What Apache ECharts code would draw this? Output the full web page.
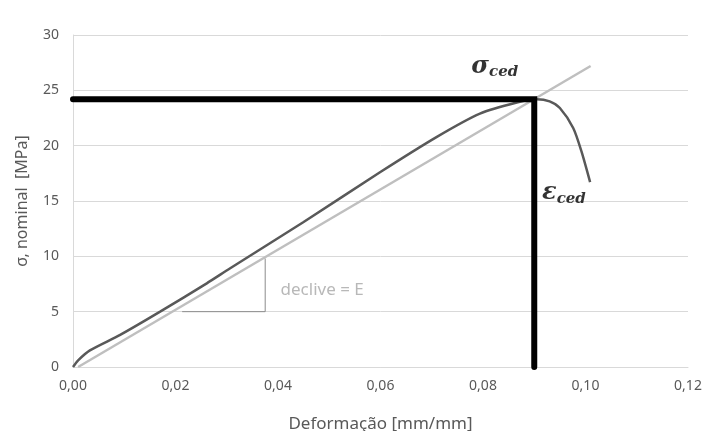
<!DOCTYPE html>
<html>
<head>
<meta charset="utf-8">
<script src="https://cdn.jsdelivr.net/npm/echarts@6/dist/echarts.min.js"></script>
<style>
html,body{margin:0;padding:0;background:#fff;}
#c{width:708px;height:431px;}
</style>
</head>
<body>
<div id="c"></div>
<script>
// Experimental stress-strain curve
var strain = [0, 0.001, 0.0033, 0.0092, 0.017, 0.0261, 0.0306, 0.045, 0.0599, 0.071, 0.0794, 0.0866, 0.0905, 0.093, 0.095, 0.0976, 0.0992, 0.1009];
var stress = [0, 0.6, 1.5, 2.9, 5.0, 7.56, 8.9, 13.1, 17.6, 20.8, 22.9, 23.9, 24.2, 24.0, 23.4, 21.6, 19.5, 16.7];
// Elastic slope line
var slopeX = [0.001, 0.101];
var slopeY = [0, 27.2];
// Yield point (sigma_ced, epsilon_ced)
var yieldStrain = 0.09;
var yieldStress = 24.2;
// Slope triangle
var triX = [0.0213, 0.0375, 0.0375];
var triY = [5, 5, 9.8];
var slopeText = 'declive = E';
var slopeTextPos = [0.0405, 6.9];
var sigmaLabelPos = [0.0823, 27.1];
var epsLabelPos = [0.0958, 15.7];
var xTicks = {min: 0, max: 0.12, interval: 0.02};
var yTicks = {min: 0, max: 30, interval: 5};

function zip(a, b) { return a.map(function (v, i) { return [v, b[i]]; }); }

var chart = echarts.init(document.getElementById('c'));
var font = 'Noto Sans';
var rich = {
  a: {fontFamily: 'DejaVu Serif', fontStyle: 'italic', fontWeight: 'bold', fontSize: 24, color: '#000'},
  b: {fontFamily: 'DejaVu Serif', fontStyle: 'italic', fontWeight: 'bold', fontSize: 15, color: '#000', padding: [11, 0, 0, 0]}
};
chart.setOption({
  animation: false,
  backgroundColor: '#ffffff',
  grid: {left: 73, right: 20, top: 35, bottom: 64, outerBoundsMode: 'none', containLabel: false},
  xAxis: {
    type: 'value', min: xTicks.min, max: xTicks.max, interval: xTicks.interval,
    name: 'Deformação [mm/mm]', nameLocation: 'middle', nameGap: 49,
    nameTextStyle: {color: '#595959', fontSize: 17, fontFamily: font},
    axisLine: {show: true, lineStyle: {color: '#d9d9d9', width: 1}},
    axisTick: {show: false},
    splitLine: {show: false},
    axisLabel: {color: '#595959', fontSize: 14, fontFamily: font, margin: 12,
      formatter: function (v) { return v.toFixed(2).replace('.', ','); }}
  },
  yAxis: {
    type: 'value', min: yTicks.min, max: yTicks.max, interval: yTicks.interval,
    name: 'σ, nominal  [MPa]', nameLocation: 'middle', nameGap: 43,
    nameTextStyle: {color: '#595959', fontSize: 16, fontFamily: font},
    axisLine: {show: true, lineStyle: {color: '#d9d9d9', width: 1}},
    axisTick: {show: false},
    splitLine: {show: true, lineStyle: {color: '#d9d9d9', width: 1}},
    axisLabel: {color: '#595959', fontSize: 14, fontFamily: font, margin: 14}
  },
  series: [
    {
      type: 'line', data: zip(slopeX, slopeY), symbol: 'none', silent: true,
      lineStyle: {color: '#bfbfbf', width: 2.5}, z: 2
    },
    {
      type: 'line', data: zip(strain, stress), symbol: 'none', smooth: 0.25, silent: true,
      lineStyle: {color: '#595959', width: 2.5}, z: 3
    },
    {
      type: 'line', data: zip(triX, triY), symbol: 'none', silent: true,
      lineStyle: {color: '#8c8c8c', width: 1}, z: 3
    },
    {
      type: 'line',
      data: [[0, yieldStress], [yieldStrain, yieldStress], [yieldStrain, 0]],
      symbol: 'none', silent: true,
      lineStyle: {color: '#000000', width: 6, cap: 'round', join: 'miter'}, z: 4
    },
    {
      type: 'scatter', symbolSize: 0, silent: true, z: 5,
      data: [
        {value: slopeTextPos, label: {show: true, position: 'right', distance: 0,
          formatter: slopeText, color: '#a6a6a6', fontSize: 17, fontFamily: font}},
        {value: sigmaLabelPos, label: {show: true, position: 'inside',
          formatter: '{a|σ}{b|ced}', rich: rich}},
        {value: epsLabelPos, label: {show: true, position: 'inside',
          formatter: '{a|ε}{b|ced}', rich: rich}}
      ]
    }
  ]
});
</script>
</body>
</html>
